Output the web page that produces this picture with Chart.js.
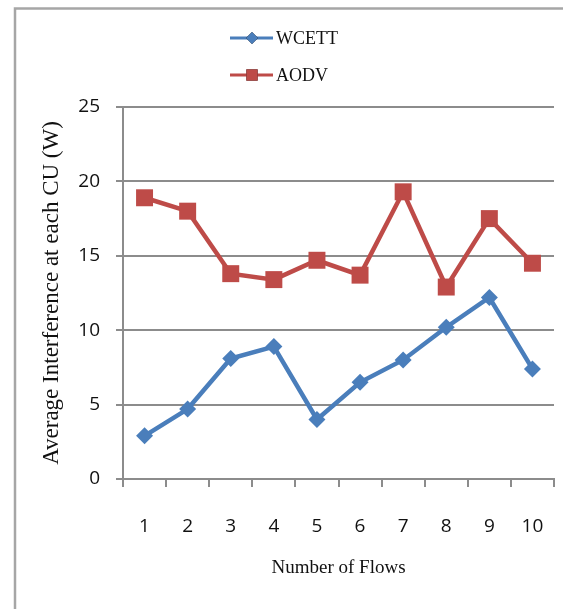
<!DOCTYPE html>
<html>
<head>
<meta charset="utf-8">
<script src="https://cdn.jsdelivr.net/npm/chart.js@4/dist/chart.umd.min.js"></script>
<style>
  html, body { margin: 0; padding: 0; background: #ffffff; }
  #wrap { width: 563px; height: 609px; position: relative; }
</style>
</head>
<body>
<div id="wrap"><canvas id="c" width="563" height="609"></canvas></div>
<script>
const flows = ['1', '2', '3', '4', '5', '6', '7', '8', '9', '10'];
const wcett = [2.9, 4.7, 8.1, 8.9, 4.0, 6.5, 8.0, 10.2, 12.2, 7.4];
const aodv = [18.9, 18.0, 13.8, 13.4, 14.7, 13.7, 19.3, 12.9, 17.5, 14.5];
const seriesNames = ['WCETT', 'AODV'];
const yTicks = [0, 5, 10, 15, 20, 25];
const xTitle = 'Number of Flows';
const yTitle = 'Average Interference at each CU (W)';

const BLUE = '#4A7EBB';
const RED = '#BE4B48';
const GRID = '#8c8c8c';

const framePlugin = {
  id: 'frame',
  beforeDraw(chart) {
    const ctx = chart.ctx;
    ctx.save();
    ctx.fillStyle = '#ffffff';
    ctx.fillRect(0, 0, chart.width, chart.height);
    ctx.strokeStyle = '#a6a6a6';
    ctx.lineWidth = 2.5;
    ctx.beginPath();
    ctx.moveTo(15, chart.height);
    ctx.lineTo(15, 8.5);
    ctx.lineTo(chart.width, 8.5);
    ctx.stroke();
    ctx.restore();
  }
};

const vLegendPlugin = {
  id: 'vLegend',
  afterDraw(chart) {
    const ctx = chart.ctx;
    const rows = [38, 75];
    ctx.save();
    chart.data.datasets.forEach((ds, i) => {
      const y = rows[i];
      ctx.strokeStyle = ds.borderColor;
      ctx.lineWidth = 3;
      ctx.beginPath();
      ctx.moveTo(230, y);
      ctx.lineTo(273, y);
      ctx.stroke();
      Chart.helpers.drawPoint(ctx, {
        pointStyle: ds.pointStyle,
        radius: ds.pointStyle === 'rect' ? 8 : 6,
        borderWidth: 0,
        rotation: 0
      }, 252, y);
      ctx.fillStyle = ds.pointBackgroundColor;
      ctx.fill();
      ctx.fillStyle = '#111111';
      ctx.font = '18px "Liberation Serif"';
      ctx.textAlign = 'left';
      ctx.textBaseline = 'middle';
      ctx.fillText(ds.label, 276, y + 1);
    });
    ctx.restore();
  }
};

new Chart(document.getElementById('c'), {
  type: 'line',
  data: {
    labels: flows,
    datasets: [
      {
        label: seriesNames[0],
        data: wcett,
        borderColor: BLUE,
        backgroundColor: BLUE,
        pointBackgroundColor: BLUE,
        pointBorderColor: BLUE,
        borderWidth: 4.5,
        pointStyle: 'rectRot',
        pointRadius: 8.5,
        pointBorderWidth: 0,
        tension: 0,
        fill: false
      },
      {
        label: seriesNames[1],
        data: aodv,
        borderColor: RED,
        backgroundColor: RED,
        pointBackgroundColor: RED,
        pointBorderColor: RED,
        borderWidth: 4.5,
        pointStyle: 'rect',
        pointRadius: 12,
        pointBorderWidth: 0,
        tension: 0,
        fill: false
      }
    ]
  },
  options: {
    responsive: false,
    animation: false,
    devicePixelRatio: 1,
    layout: { autoPadding: false, padding: { left: 0, right: 9, top: 107, bottom: 0 } },
    plugins: {
      legend: { display: false },
      tooltip: { enabled: false }
    },
    scales: {
      x: {
        type: 'category',
        offset: true,
        grid: {
          offset: true,
          drawOnChartArea: false,
          drawTicks: true,
          tickLength: 8,
          tickColor: GRID,
          lineWidth: 2
        },
        border: { display: true, color: GRID, width: 2 },
        ticks: {
          color: '#111111',
          font: { family: '"Open Sans", sans-serif', size: 19 },
          padding: 28,
          maxRotation: 0,
          autoSkip: false
        },
        title: {
          display: true,
          text: xTitle,
          color: '#111111',
          font: { family: '"Liberation Serif", serif', size: 19 },
          padding: { top: 0, bottom: 30 }
        },
        afterFit(scale) {
          scale.height = 130;
          scale.paddingLeft = 0;
          scale.paddingRight = 0;
        }
      },
      y: {
        min: 0,
        max: 25,
        afterBuildTicks(scale) { scale.ticks = yTicks.map(v => ({ value: v })); },
        grid: {
          color: GRID,
          lineWidth: 2,
          drawTicks: true,
          tickLength: 7,
          tickColor: GRID
        },
        border: { display: true, color: GRID, width: 2 },
        ticks: {
          color: '#111111',
          font: { family: '"Open Sans", sans-serif', size: 19 },
          padding: 16
        },
        title: {
          display: true,
          text: yTitle,
          color: '#111111',
          font: { family: '"Liberation Serif", serif', size: 23 },
          padding: { top: 38, bottom: 0 }
        },
        afterFit(scale) { scale.width = 123; }
      }
    }
  },
  plugins: [framePlugin, vLegendPlugin]
});
</script>
</body>
</html>
